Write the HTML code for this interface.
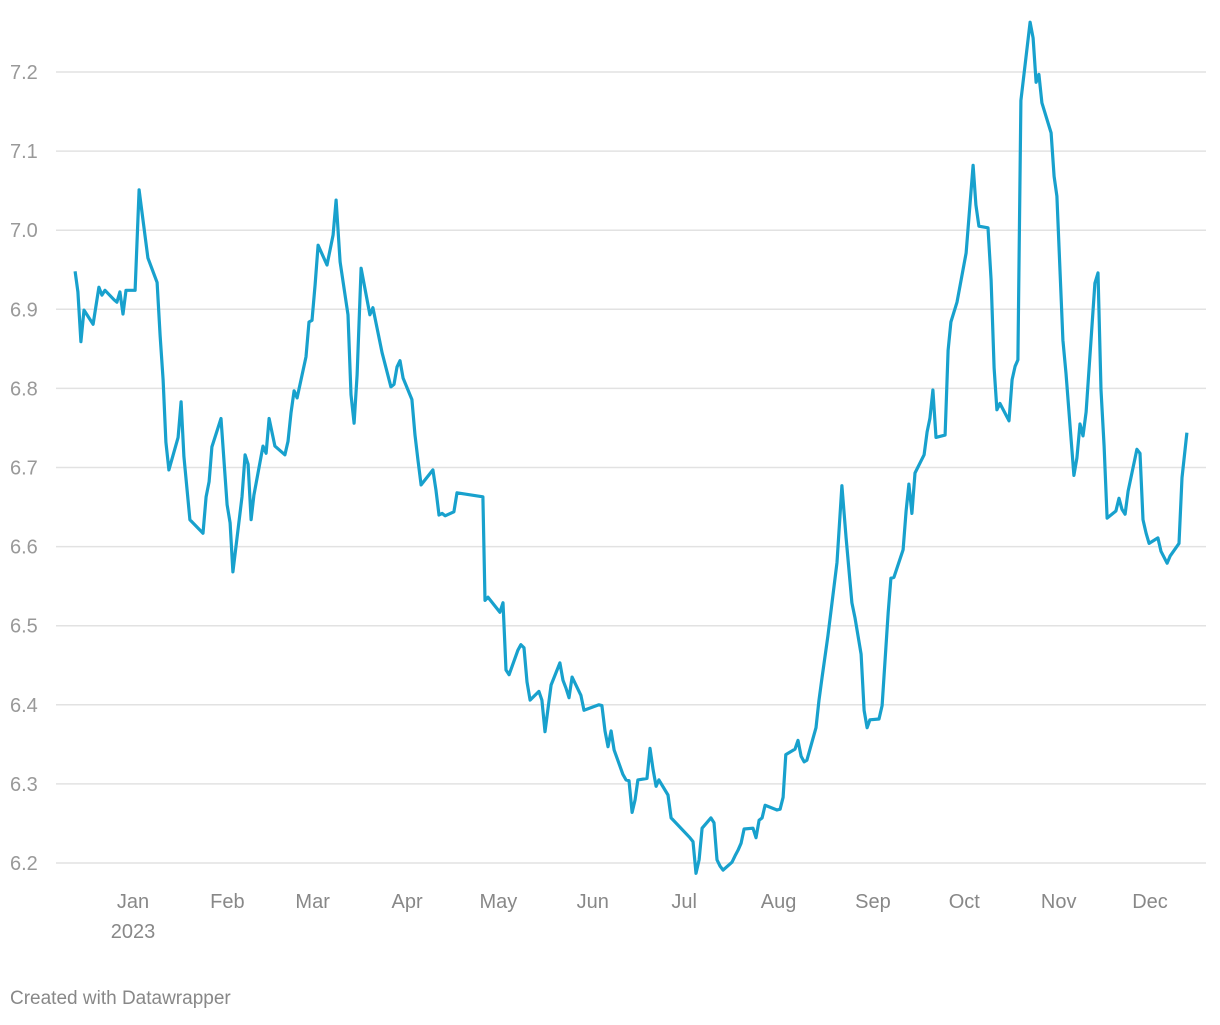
<!DOCTYPE html>
<html><head><meta charset="utf-8"><style>
body{margin:0;background:#fff;font-family:"Liberation Sans",sans-serif;}
svg text{font-family:"Liberation Sans",sans-serif;}
</style></head><body>
<svg id="chart" width="1220" height="1020" xmlns="http://www.w3.org/2000/svg">
<g id="grid"></g><g id="ylab"></g><g id="xlab"></g><path id="line" fill="none" stroke="#18a1cd" stroke-width="3.2" stroke-linejoin="round"/>
<text x="10" y="1004" font-size="19" fill="#888">Created with Datawrapper</text>
</svg>
<script>
const days=[-19,-18.1,-17.1,-16.1,-13.1,-11.2,-10.2,-9.2,-6.2,-5.3,-4.3,-3.3,-2.3,0.7,2,4.9,7.9,8.9,9.9,10.8,11.8,14.8,15.8,16.7,18.7,23,24,25,25.9,28.9,30.9,31.9,32.8,35.8,36.8,37.8,38.8,39.7,42.7,43.7,44.7,46.6,49.9,50.9,51.9,52.9,53.9,56.8,57.8,58.8,59.8,60.8,63.7,65.7,66.7,68,70.6,71.6,72.6,73.6,74.9,77.8,78.8,81.8,84.7,85.7,86.7,87.7,88.7,91.6,92.6,93.6,94.6,98.5,99.5,100.5,101.5,102.5,105.4,106.4,114.9,115.6,116.6,120.5,121.5,122.5,123.5,126.4,127.4,128.4,129.4,130.4,133.3,134.3,135.3,137.3,140.2,141.2,142.2,143.2,144.2,147.1,148.1,153,154,155,156,157,158,160.9,161.9,162.9,163.9,164.9,165.8,168.8,169.8,170.8,171.8,172.7,175.7,176.7,182.9,183.9,184.9,185.9,186.9,189.8,190.8,191.8,192.8,193.8,196.7,197.7,198.7,199.7,200.7,203.6,204.6,205.6,206.6,207.6,211.5,212.5,213.5,214.4,217.4,218.4,219.4,220.4,221.3,224.3,225.3,226.3,228.2,231.2,232.8,234.2,236.1,237.1,239.1,240.1,241.1,242,245,246,247,248,248.9,249.9,252.9,253.9,254.8,255.8,256.8,259.8,260.8,261.7,262.7,263.7,266.7,267.7,268.6,270.6,273.6,275.9,276.8,277.8,280.8,281.8,282.8,283.7,284.7,287.7,288.7,289.7,290.6,291.6,294.6,295.6,296.6,297.5,298.5,301.5,302.5,303.4,305.4,306.4,309,310,311,312,313,315.9,316.9,317.9,318.9,319.9,322.8,323.8,324.8,325.8,326.8,329.7,330.7,331.7,332.7,333.7,336.6,337.6,339.6,340.6,343.5,344.5,346.1];
const values=[6.948,6.922,6.859,6.899,6.881,6.928,6.918,6.924,6.912,6.909,6.922,6.894,6.924,6.924,7.051,6.965,6.934,6.867,6.811,6.732,6.697,6.738,6.783,6.714,6.634,6.617,6.663,6.682,6.726,6.762,6.653,6.630,6.568,6.663,6.716,6.704,6.634,6.665,6.727,6.718,6.762,6.727,6.716,6.733,6.769,6.797,6.788,6.840,6.884,6.886,6.931,6.981,6.956,6.994,7.038,6.960,6.893,6.792,6.756,6.817,6.952,6.893,6.902,6.845,6.802,6.805,6.827,6.835,6.813,6.786,6.741,6.709,6.678,6.697,6.671,6.640,6.642,6.639,6.644,6.668,6.663,6.532,6.536,6.517,6.529,6.444,6.438,6.469,6.476,6.472,6.429,6.406,6.417,6.406,6.366,6.425,6.453,6.431,6.421,6.409,6.435,6.412,6.393,6.400,6.399,6.367,6.347,6.367,6.343,6.312,6.305,6.304,6.264,6.280,6.305,6.307,6.345,6.318,6.297,6.305,6.286,6.257,6.232,6.227,6.187,6.204,6.244,6.257,6.251,6.204,6.196,6.191,6.201,6.209,6.216,6.225,6.243,6.244,6.232,6.254,6.257,6.273,6.267,6.268,6.283,6.337,6.344,6.355,6.335,6.328,6.330,6.371,6.406,6.435,6.487,6.580,6.677,6.611,6.529,6.510,6.464,6.393,6.371,6.381,6.382,6.399,6.457,6.517,6.560,6.561,6.596,6.645,6.679,6.642,6.693,6.716,6.745,6.762,6.798,6.738,6.741,6.848,6.884,6.909,6.971,7.082,7.032,7.005,7.003,6.937,6.826,6.773,6.781,6.759,6.811,6.828,6.836,7.164,7.263,7.243,7.187,7.197,7.161,7.123,7.068,7.043,6.861,6.819,6.690,6.712,6.755,6.740,6.770,6.933,6.946,6.798,6.727,6.636,6.645,6.661,6.647,6.641,6.670,6.723,6.718,6.634,6.617,6.604,6.611,6.594,6.579,6.588,6.604,6.687,6.744];
const yTicks=[6.2,6.3,6.4,6.5,6.6,6.7,6.8,6.9,7.0,7.1,7.2];
const yTickLabels=["6.2","6.3","6.4","6.5","6.6","6.7","6.8","6.9","7.0","7.1","7.2"];
const monthDays=[0,31,59,90,120,151,181,212,243,273,304,334];
const monthLabels=["Jan","Feb","Mar","Apr","May","Jun","Jul","Aug","Sep","Oct","Nov","Dec"];
const NS="http://www.w3.org/2000/svg";
const xs=d=>133+d*3.045;
const ys=v=>863-(v-6.2)*791;
const grid=document.getElementById('grid'),yl=document.getElementById('ylab'),xl=document.getElementById('xlab');
yTicks.forEach((t,i)=>{
 const l=document.createElementNS(NS,'line');
 l.setAttribute('x1',56);l.setAttribute('x2',1206);l.setAttribute('y1',ys(t));l.setAttribute('y2',ys(t));
 l.setAttribute('stroke','#e2e2e2');l.setAttribute('stroke-width',1.5);
 
 
 grid.appendChild(l);
 const tx=document.createElementNS(NS,'text');
 tx.setAttribute('x',10);tx.setAttribute('y',ys(t)+7);tx.setAttribute('font-size',20);tx.setAttribute('fill','#999');
 tx.textContent=yTickLabels[i];
 
 
 yl.appendChild(tx);
});
monthDays.forEach((d,i)=>{
 const tx=document.createElementNS(NS,'text');
 tx.setAttribute('x',xs(d));tx.setAttribute('y',908);tx.setAttribute('font-size',20);tx.setAttribute('fill','#888');tx.setAttribute('text-anchor','middle');
 tx.textContent=monthLabels[i];
 
 
 xl.appendChild(tx);
});
const yr=document.createElementNS(NS,'text');
yr.setAttribute('x',xs(0));yr.setAttribute('y',938);yr.setAttribute('font-size',20);yr.setAttribute('fill','#888');yr.setAttribute('text-anchor','middle');
yr.textContent='2023';


xl.appendChild(yr);
const line=document.getElementById('line');
line.setAttribute('d',days.map((d,i)=>(i?'L':'M')+xs(d).toFixed(1)+','+ys(values[i]).toFixed(1)).join(''));


</script>
</body></html>
